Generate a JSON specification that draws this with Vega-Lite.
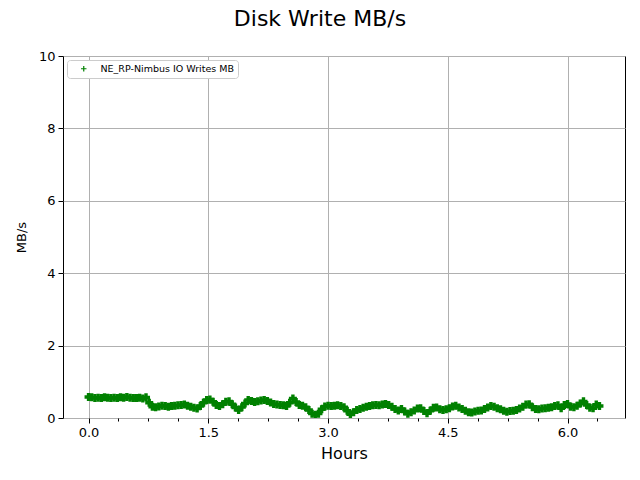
{
  "$schema": "https://vega.github.io/schema/vega-lite/v6.json",
  "autosize": "none",
  "padding": {"left": 63, "top": 56, "right": 15, "bottom": 62},
  "width": 562,
  "height": 362,
  "background": "white",
  "title": {"text": "Disk Write MB/s", "font": "DejaVu Sans", "fontSize": 22, "fontWeight": "normal", "color": "black", "anchor": "middle", "dx": -24, "offset": 19},
  "config": {
    "view": {"stroke": "black", "strokeWidth": 1},
    "axis": {"labelFont": "DejaVu Sans", "titleFont": "DejaVu Sans", "labelColor": "black", "titleColor": "black", "labelFontSize": 13, "domain": false, "tickColor": "black", "gridColor": "#b0b0b0", "gridWidth": 1, "titleFontWeight": "normal"}
  },
  "data": {"values": [
    {"h":0.00,"v":0.58},{"h":0.04,"v":0.57},{"h":0.08,"v":0.55},{"h":0.12,"v":0.56},{"h":0.16,"v":0.55},{"h":0.20,"v":0.57},{"h":0.24,"v":0.56},{"h":0.28,"v":0.55},{"h":0.32,"v":0.56},{"h":0.36,"v":0.55},
    {"h":0.40,"v":0.57},{"h":0.44,"v":0.56},{"h":0.48,"v":0.58},{"h":0.52,"v":0.56},{"h":0.56,"v":0.55},{"h":0.60,"v":0.55},{"h":0.64,"v":0.56},{"h":0.68,"v":0.54},{"h":0.72,"v":0.57},{"h":0.76,"v":0.42},
    {"h":0.80,"v":0.31},{"h":0.84,"v":0.30},{"h":0.88,"v":0.32},{"h":0.92,"v":0.34},{"h":0.96,"v":0.33},{"h":1.00,"v":0.31},{"h":1.04,"v":0.33},{"h":1.08,"v":0.34},{"h":1.12,"v":0.35},{"h":1.16,"v":0.36},
    {"h":1.20,"v":0.37},{"h":1.24,"v":0.34},{"h":1.28,"v":0.31},{"h":1.32,"v":0.28},{"h":1.36,"v":0.26},{"h":1.40,"v":0.33},{"h":1.44,"v":0.42},{"h":1.48,"v":0.50},{"h":1.52,"v":0.51},{"h":1.56,"v":0.45},
    {"h":1.60,"v":0.36},{"h":1.64,"v":0.33},{"h":1.68,"v":0.38},{"h":1.72,"v":0.45},{"h":1.76,"v":0.46},{"h":1.80,"v":0.38},{"h":1.84,"v":0.29},{"h":1.88,"v":0.22},{"h":1.92,"v":0.30},{"h":1.96,"v":0.40},
    {"h":2.00,"v":0.50},{"h":2.04,"v":0.47},{"h":2.08,"v":0.44},{"h":2.12,"v":0.46},{"h":2.16,"v":0.48},{"h":2.20,"v":0.50},{"h":2.24,"v":0.47},{"h":2.28,"v":0.43},{"h":2.32,"v":0.39},{"h":2.36,"v":0.37},
    {"h":2.40,"v":0.36},{"h":2.44,"v":0.35},{"h":2.48,"v":0.33},{"h":2.52,"v":0.42},{"h":2.56,"v":0.54},{"h":2.60,"v":0.44},{"h":2.64,"v":0.36},{"h":2.68,"v":0.34},{"h":2.72,"v":0.30},{"h":2.76,"v":0.22},
    {"h":2.80,"v":0.12},{"h":2.84,"v":0.09},{"h":2.88,"v":0.12},{"h":2.92,"v":0.24},{"h":2.96,"v":0.32},{"h":3.00,"v":0.34},{"h":3.04,"v":0.33},{"h":3.08,"v":0.34},{"h":3.12,"v":0.35},{"h":3.16,"v":0.33},
    {"h":3.20,"v":0.30},{"h":3.24,"v":0.20},{"h":3.28,"v":0.10},{"h":3.32,"v":0.16},{"h":3.36,"v":0.22},{"h":3.40,"v":0.25},{"h":3.44,"v":0.28},{"h":3.48,"v":0.31},{"h":3.52,"v":0.33},{"h":3.56,"v":0.35},
    {"h":3.60,"v":0.36},{"h":3.64,"v":0.35},{"h":3.68,"v":0.37},{"h":3.72,"v":0.39},{"h":3.76,"v":0.36},{"h":3.80,"v":0.31},{"h":3.84,"v":0.25},{"h":3.88,"v":0.21},{"h":3.92,"v":0.25},{"h":3.96,"v":0.18},
    {"h":4.00,"v":0.12},{"h":4.04,"v":0.16},{"h":4.08,"v":0.21},{"h":4.12,"v":0.26},{"h":4.16,"v":0.27},{"h":4.20,"v":0.19},{"h":4.24,"v":0.13},{"h":4.28,"v":0.20},{"h":4.32,"v":0.28},{"h":4.36,"v":0.29},
    {"h":4.40,"v":0.24},{"h":4.44,"v":0.22},{"h":4.48,"v":0.24},{"h":4.52,"v":0.27},{"h":4.56,"v":0.32},{"h":4.60,"v":0.34},{"h":4.64,"v":0.29},{"h":4.68,"v":0.25},{"h":4.72,"v":0.20},{"h":4.76,"v":0.16},
    {"h":4.80,"v":0.15},{"h":4.84,"v":0.18},{"h":4.88,"v":0.20},{"h":4.92,"v":0.21},{"h":4.96,"v":0.25},{"h":5.00,"v":0.29},{"h":5.04,"v":0.33},{"h":5.08,"v":0.31},{"h":5.12,"v":0.27},{"h":5.16,"v":0.24},
    {"h":5.20,"v":0.20},{"h":5.24,"v":0.17},{"h":5.28,"v":0.19},{"h":5.32,"v":0.20},{"h":5.36,"v":0.22},{"h":5.40,"v":0.26},{"h":5.44,"v":0.31},{"h":5.48,"v":0.37},{"h":5.52,"v":0.38},{"h":5.56,"v":0.30},
    {"h":5.60,"v":0.25},{"h":5.64,"v":0.24},{"h":5.68,"v":0.26},{"h":5.72,"v":0.27},{"h":5.76,"v":0.28},{"h":5.80,"v":0.30},{"h":5.84,"v":0.33},{"h":5.88,"v":0.35},{"h":5.92,"v":0.27},{"h":5.96,"v":0.36},
    {"h":6.00,"v":0.39},{"h":6.04,"v":0.31},{"h":6.08,"v":0.30},{"h":6.12,"v":0.34},{"h":6.16,"v":0.40},{"h":6.20,"v":0.46},{"h":6.24,"v":0.36},{"h":6.28,"v":0.28},{"h":6.32,"v":0.27},{"h":6.36,"v":0.37},
    {"h":6.40,"v":0.33}
  ]},
  "transform": [{"calculate": "'NE_RP-Nimbus IO Writes MB'", "as": "series"}],
  "mark": {"type": "point", "shape": "M-1,0L1,0M0,-1L0,1", "filled": false, "strokeWidth": 3.4, "size": 64, "opacity": 1, "clip": true},
  "encoding": {
    "x": {"field": "h", "type": "quantitative", "scale": {"domain": [-0.32, 6.72], "nice": false, "zero": false},
      "axis": {"title": "Hours", "titleFontSize": 16, "titlePadding": 6,
        "values": [0,0.375,0.75,1.125,1.5,1.875,2.25,2.625,3,3.375,3.75,4.125,4.5,4.875,5.25,5.625,6,6.375],
        "labelExpr": "abs(round(datum.value/1.5)*1.5 - datum.value) < 0.001 ? format(datum.value, '.1f') : ''",
        "labelPadding": 3,
        "tickSize": {"condition": {"test": "abs(round(datum.value/1.5)*1.5 - datum.value) < 0.001", "value": 5}, "value": 3},
        "gridOpacity": {"condition": {"test": "abs(round(datum.value/1.5)*1.5 - datum.value) < 0.001", "value": 1}, "value": 0}}},
    "y": {"field": "v", "type": "quantitative", "scale": {"domain": [0, 10], "nice": false},
      "axis": {"title": "MB/s", "titleFontSize": 13, "values": [0,2,4,6,8,10], "tickSize": 5, "labelPadding": 3, "titlePadding": 10}},
    "color": {"field": "series", "type": "nominal", "scale": {"range": ["#008000"]},
      "legend": {"title": null, "orient": "top-left", "offset": 4, "labelFont": "DejaVu Sans", "labelFontSize": 9.5, "labelColor": "black", "labelOffset": 12, "symbolType": "M-1,0L1,0M0,-1L0,1", "symbolSize": 30, "symbolStrokeWidth": 1.2, "symbolFillColor": "transparent", "fillColor": "white", "strokeColor": "#cccccc", "cornerRadius": 3, "padding": 4, "symbolOffset": 8}}
  }
}
